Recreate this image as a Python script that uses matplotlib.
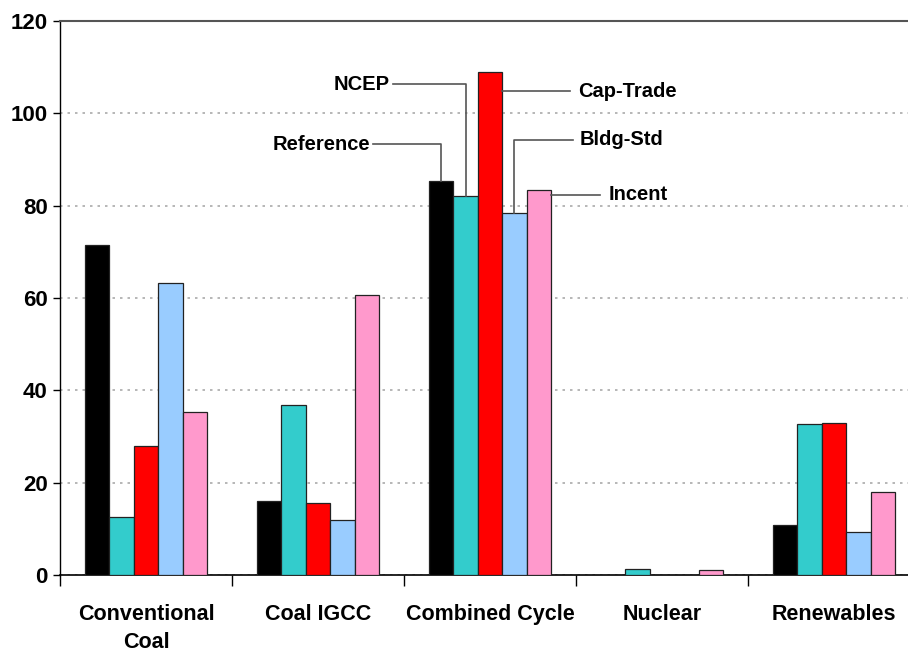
import matplotlib.pyplot as plt
import numpy as np

# Datos
categories = ["Conventional\nCoal", "Coal IGCC", "Combined Cycle", "Nuclear", "Renewables"]
series_names = ["Reference", "NCEP", "Cap-Trade", "Bldg-Std", "Incent"]
reference = [71.4, 16.1, 85.3, 0.0, 10.9]
ncep = [12.5, 36.9, 82.0, 1.2, 32.8]
cap_trade = [28.0, 15.7, 109.0, 0.0, 33.0]
bldg_std = [63.2, 12.0, 78.5, 0.0, 9.3]
incent = [35.2, 60.6, 83.3, 1.1, 17.9]
colors = ["#000000", "#33CCCC", "#FF0000", "#99CCFF", "#FF99CC"]

plt.rcParams['font.family'] = ['Liberation Sans Narrow', 'Liberation Sans', 'DejaVu Sans']

fig = plt.figure(figsize=(9.08, 6.59), dpi=100)
ax = fig.add_axes([0.0661, 0.1275, 0.947, 0.8406])

x = np.arange(len(categories))
width = 0.142
all_series = [reference, ncep, cap_trade, bldg_std, incent]
for i, (vals, col) in enumerate(zip(all_series, colors)):
    ax.bar(x + (i - 2) * width, vals, width, color=col, edgecolor='#222222',
           linewidth=0.9, zorder=3)

ax.set_xlim(-0.5, 4.5)
ax.set_ylim(0, 120)
ax.set_yticks(range(0, 121, 20))
ax.yaxis.grid(True, linestyle=(0, (1.5, 3)), color='#aaaaaa', linewidth=1.2, zorder=0)

ax.set_xticks(x)
ax.set_xticklabels(categories, fontsize=15.5, fontweight='bold', linespacing=1.4)
ax.tick_params(axis='x', which='major', length=0, pad=21)
ax.set_xticks(np.arange(-0.5, 4.6, 1), minor=True)
ax.tick_params(axis='x', which='minor', length=8, width=1, direction='out')
ax.tick_params(axis='y', length=5, width=1, direction='out', labelsize=16, pad=4)
for lab in ax.get_yticklabels():
    lab.set_fontweight('bold')

ax.spines['right'].set_visible(False)
ax.spines['top'].set_color('#555555')
ax.spines['top'].set_linewidth(1.5)
ax.spines['left'].set_linewidth(1)
ax.spines['bottom'].set_linewidth(1.2)

# Etiquetas con líneas guía en el grupo Combined Cycle
g = 2
ann_font = dict(fontsize=14.5, fontweight='bold', family=['Liberation Sans', 'DejaVu Sans'])
lc = '#555555'
# Reference: izquierda, línea desde el centro de la barra
xb = g - 2 * width
ax.plot([xb, xb, 1.32], [reference[g], 93.3, 93.3], color=lc, lw=1.2, zorder=4)
ax.text(1.305, 93.3, "Reference", ha='right', va='center', **ann_font)
# NCEP
xb = g - 1 * width
ax.plot([xb, xb, 1.435], [ncep[g], 106.3, 106.3], color=lc, lw=1.2, zorder=4)
ax.text(1.42, 106.3, "NCEP", ha='right', va='center', **ann_font)
# Cap-Trade
xb = g + 0.5 * width
ax.plot([xb, 2.465], [104.8, 104.8], color=lc, lw=1.2, zorder=4)
ax.text(2.51, 104.8, "Cap-Trade", ha='left', va='center', **ann_font)
# Bldg-Std
xb = g + 1 * width
ax.plot([xb, xb, 2.483], [bldg_std[g], 94.3, 94.3], color=lc, lw=1.2, zorder=4)
ax.text(2.52, 94.3, "Bldg-Std", ha='left', va='center', **ann_font)
# Incent
xb = g + 2.5 * width
ax.plot([xb, 2.64], [82.4, 82.4], color=lc, lw=1.2, zorder=4)
ax.text(2.69, 82.4, "Incent", ha='left', va='center', **ann_font)

plt.savefig("out.png", dpi=100)
